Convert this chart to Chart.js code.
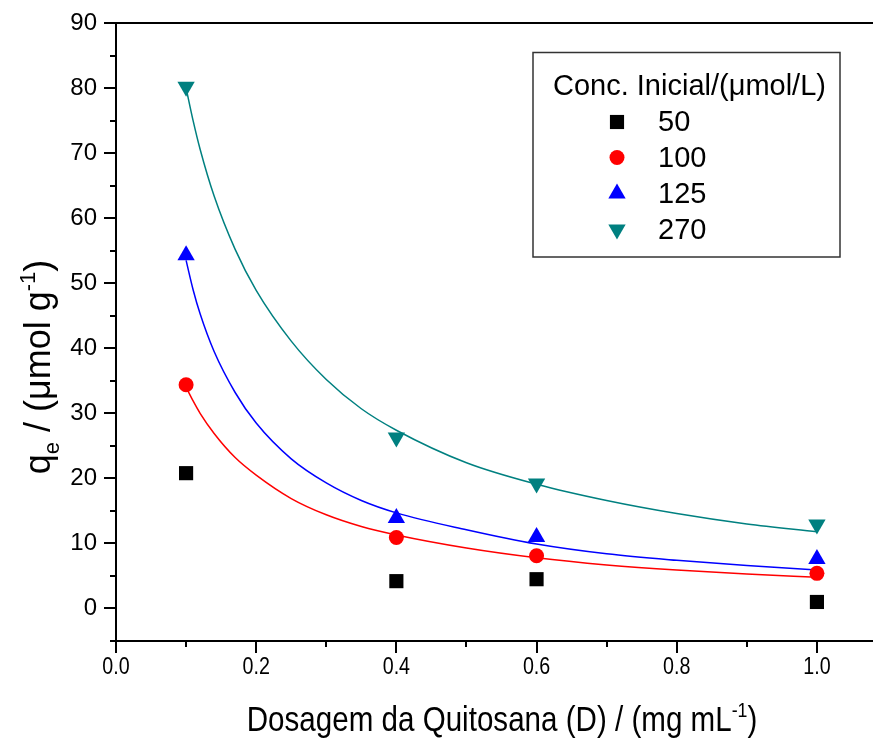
<!DOCTYPE html>
<html>
<head>
<meta charset="utf-8">
<script src="https://cdn.jsdelivr.net/npm/chart.js@4/dist/chart.umd.min.js"></script>
<style>
  html, body { margin: 0; padding: 0; background: #fff; }
  #wrap { width: 873px; height: 740px; position: relative; }
</style>
</head>
<body>
<div id="wrap"><canvas id="c" width="873" height="740"></canvas></div>
<script>
// Adsorption capacity vs. chitosan dosage, for four initial concentrations
const dosage = [0.1, 0.4, 0.6, 1.0];
const q50  = [20.8, 4.2, 4.5, 1.0];
const q100 = [34.4, 10.9, 8.1, 5.4];
const q125 = [54.3, 13.9, 11.0, 7.6];
const q270 = [80.2, 26.3, 19.2, 12.9];

// fitted curves (sampled along the dosage axis)
const fitDose = [0.1, 0.11, 0.12, 0.14, 0.17, 0.2, 0.25, 0.3, 0.35, 0.4, 0.5, 0.6, 0.7, 0.8, 0.9, 1.0];
const fit100  = [34.0, 31.9, 30.0, 26.9, 23.2, 20.5, 16.9, 14.4, 12.6, 11.3, 9.3, 7.8, 6.7, 5.9, 5.3, 4.8];
const fit125  = [53.5, 49.0, 45.3, 39.5, 33.2, 28.5, 23.0, 19.3, 16.6, 14.7, 12.1, 9.9, 8.4, 7.4, 6.6, 5.9];
const fit270  = [80.0, 75.0, 70.6, 63.4, 55.2, 48.9, 41.1, 35.2, 30.7, 27.4, 22.4, 19.1, 16.6, 14.6, 13.0, 11.8];

const seriesLabels = ['50', '100', '125', '270'];
const legendTitle = 'Conc. Inicial/(\u03BCmol/L)';
const yTicksMajor = [0, 10, 20, 30, 40, 50, 60, 70, 80, 90];
const xTickLabels = ['0.0', '0.2', '0.4', '0.6', '0.8', '1.0'];

const REG = '"Liberation Sans", Arial, sans-serif';
const NARROW_SCALE = 0.82;   // condensed face for the dosage axis labels
const TITLE_SCALE = 0.845;   // condensed face for the dosage axis title

const pts = (xs, ys) => xs.map((x, i) => ({ x: x, y: ys[i] }));

const markerStyles = [
  { pointStyle: 'rect', radius: 10, rotation: 0, color: '#000000' },
  { pointStyle: 'circle', radius: 7.5, rotation: 0, color: '#FF0000' },
  { pointStyle: 'triangle', radius: 10, rotation: 0, color: '#0000FF' },
  { pointStyle: 'triangle', radius: 10, rotation: 180, color: '#008080' }
];
const seriesValues = [q50, q100, q125, q270];

const datasets = seriesValues.map((vals, i) => ({
  label: seriesLabels[i],
  data: pts(dosage, vals),
  showLine: false,
  pointStyle: markerStyles[i].pointStyle,
  pointRadius: markerStyles[i].radius,
  pointRotation: markerStyles[i].rotation,
  pointBackgroundColor: markerStyles[i].color,
  pointBorderColor: markerStyles[i].color,
  pointBorderWidth: 0,
  order: 0
}));

[[fit100, '#FF0000'], [fit125, '#0000FF'], [fit270, '#008080']].forEach(([vals, col]) => {
  datasets.push({
    label: 'fit',
    data: pts(fitDose, vals),
    showLine: true,
    borderColor: col,
    borderWidth: 1.5,
    pointRadius: 0,
    cubicInterpolationMode: 'monotone',
    fill: false,
    order: 1
  });
});

function drawMarker(ctx, style, x, y) {
  const r = style.radius;
  ctx.save();
  ctx.fillStyle = style.color;
  ctx.beginPath();
  if (style.pointStyle === 'rect') {
    const s = Math.SQRT1_2 * r;
    ctx.rect(x - s, y - s, 2 * s, 2 * s);
  } else if (style.pointStyle === 'circle') {
    ctx.arc(x, y, r, 0, Math.PI * 2);
  } else {
    let a = style.rotation * Math.PI / 180;
    for (let k = 0; k < 3; k++) {
      const px = x + Math.sin(a) * r, py = y - Math.cos(a) * r;
      if (k === 0) ctx.moveTo(px, py); else ctx.lineTo(px, py);
      a += 2 * Math.PI / 3;
    }
    ctx.closePath();
  }
  ctx.fill();
  ctx.restore();
}

// draws a run of text pieces (with sub/superscripts) centred at the origin
function drawRich(ctx, pieces, family) {
  let total = 0;
  pieces.forEach(p => { ctx.font = p.size + 'px ' + family; p.w = ctx.measureText(p.t).width; total += p.w; });
  let x = -total / 2;
  ctx.textBaseline = 'alphabetic';
  ctx.textAlign = 'left';
  pieces.forEach(p => {
    ctx.font = p.size + 'px ' + family;
    ctx.fillText(p.t, x, p.dy || 0);
    x += p.w;
  });
}

const framePlugin = {
  id: 'frame',
  beforeDraw(chart) {
    const ctx = chart.ctx;
    ctx.save();
    ctx.fillStyle = '#ffffff';
    ctx.fillRect(0, 0, chart.width, chart.height);
    ctx.restore();
  },
  afterDraw(chart) {
    const ctx = chart.ctx;
    const a = chart.chartArea;
    const xs = chart.scales.x, ys = chart.scales.y;
    ctx.save();
    ctx.strokeStyle = '#000';
    ctx.lineWidth = 2;
    ctx.lineCap = 'butt';
    // top frame line
    ctx.beginPath();
    ctx.moveTo(a.left, a.top);
    ctx.lineTo(chart.width, a.top);
    ctx.stroke();
    // y ticks (major every 10, minor every 5)
    for (let v = -5; v <= 90; v += 5) {
      const py = Math.round(ys.getPixelForValue(v));
      const len = (v % 10 === 0) ? 12 : 6;
      ctx.beginPath();
      ctx.moveTo(a.left - len, py);
      ctx.lineTo(a.left, py);
      ctx.stroke();
    }
    // x ticks (major every 0.2, minor every 0.1)
    for (let k = 0; k <= 10; k++) {
      const px = Math.round(xs.getPixelForValue(k / 10));
      const len = (k % 2 === 0) ? 12 : 6;
      ctx.beginPath();
      ctx.moveTo(px, a.bottom);
      ctx.lineTo(px, a.bottom + len);
      ctx.stroke();
    }
    ctx.restore();

    // dosage-axis tick labels, condensed face
    ctx.save();
    ctx.fillStyle = '#000';
    ctx.font = '24px ' + REG;
    ctx.textAlign = 'center';
    ctx.textBaseline = 'alphabetic';
    xTickLabels.forEach(lab => {
      const px = xs.getPixelForValue(parseFloat(lab));
      ctx.save();
      ctx.translate(px, 674);
      ctx.scale(NARROW_SCALE, 1);
      ctx.fillText(lab, 0, 0);
      ctx.restore();
    });
    ctx.restore();

    // axis titles
    ctx.save();
    ctx.fillStyle = '#000';
    ctx.translate(502, 731);
    ctx.scale(TITLE_SCALE, 1);
    drawRich(ctx, [
      { t: 'Dosagem da Quitosana (D) / (mg mL', size: 35 },
      { t: '-1', size: 21, dy: -14 },
      { t: ')', size: 35 }
    ], REG);
    ctx.restore();

    ctx.save();
    ctx.fillStyle = '#000';
    ctx.translate(50, 367);
    ctx.rotate(-Math.PI / 2);
    drawRich(ctx, [
      { t: 'q', size: 36 },
      { t: 'e', size: 22, dy: 9 },
      { t: ' / (\u03BCmol g', size: 36 },
      { t: '-1', size: 22, dy: -15 },
      { t: ')', size: 36 }
    ], REG);
    ctx.restore();

    // legend box
    ctx.save();
    ctx.fillStyle = '#ffffff';
    ctx.fillRect(533, 52.5, 307, 204.5);
    ctx.strokeStyle = '#333333';
    ctx.lineWidth = 1.5;
    ctx.strokeRect(533, 52.5, 307, 204.5);
    ctx.fillStyle = '#000';
    ctx.font = '29px ' + REG;
    ctx.textBaseline = 'middle';
    ctx.textAlign = 'left';
    ctx.fillText(legendTitle, 553, 87);
    const rowY = [122, 157.5, 193.5, 229.5];
    seriesLabels.forEach((lab, i) => {
      drawMarker(ctx, markerStyles[i], 617, rowY[i]);
      ctx.fillStyle = '#000';
      ctx.fillText(lab, 658, rowY[i] + 1);
    });
    ctx.restore();
  }
};

new Chart(document.getElementById('c'), {
  type: 'scatter',
  data: { datasets: datasets },
  options: {
    responsive: false,
    animation: false,
    devicePixelRatio: 1,
    layout: { autoPadding: false, padding: { top: 23, left: 0, right: 0, bottom: 0 } },
    plugins: { legend: { display: false }, tooltip: { enabled: false } },
    scales: {
      x: {
        type: 'linear',
        min: 0,
        max: 1.08,
        afterFit(scale) { scale.height = 99; },
        border: { display: true, color: '#000', width: 2 },
        grid: { display: true, drawOnChartArea: false, drawTicks: false, tickColor: 'rgba(0,0,0,0)' },
        ticks: {
          display: false,
          stepSize: 0.1,
          includeBounds: false,
          autoSkip: false,
          maxRotation: 0
        }
      },
      y: {
        type: 'linear',
        min: -5,
        max: 90,
        afterFit(scale) { scale.width = 116; },
        border: { display: true, color: '#000', width: 2 },
        grid: { display: true, drawOnChartArea: false, drawTicks: true, tickLength: 12, tickColor: 'rgba(0,0,0,0)' },
        ticks: {
          stepSize: 5,
          autoSkip: false,
          padding: 7,
          color: '#000',
          font: { family: REG, size: 24 },
          callback(v) { return yTicksMajor.includes(v) ? String(v) : ''; }
        }
      }
    }
  },
  plugins: [framePlugin]
});
</script>
</body>
</html>
